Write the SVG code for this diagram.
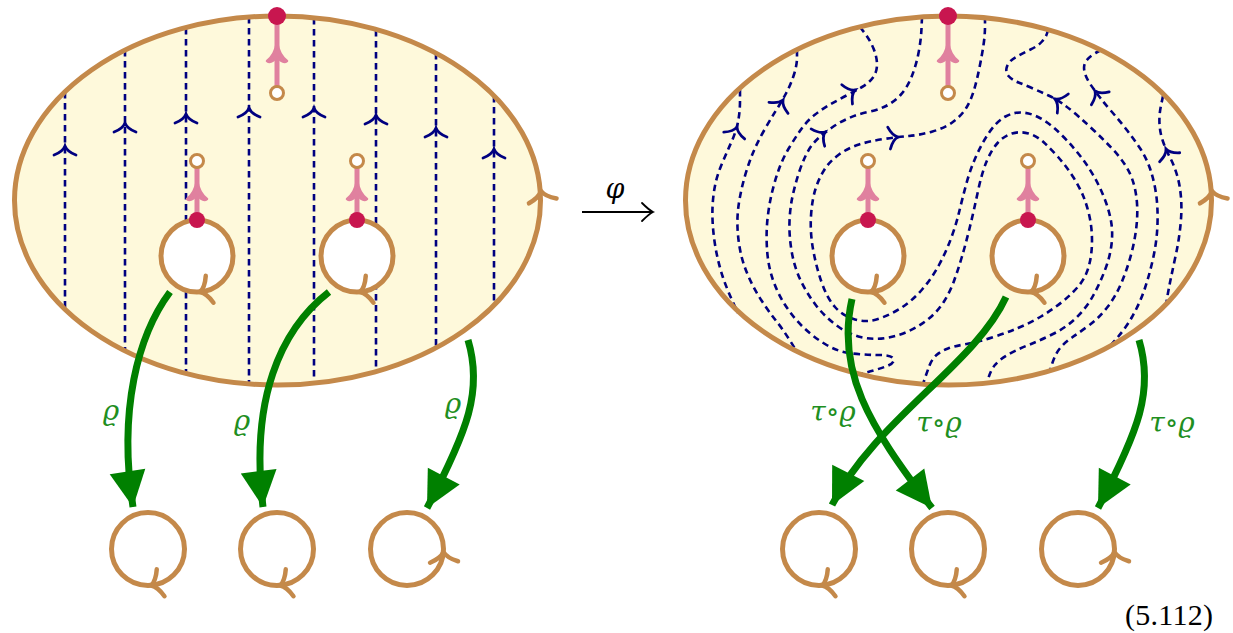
<svg xmlns="http://www.w3.org/2000/svg" width="1233" height="633" viewBox="0 0 1233 633">
<style>
.ell{fill:#FEF9DB}
.bd{fill:none;stroke:#C4894A;stroke-width:5}
.hole{fill:#fff;stroke:#C4894A;stroke-width:5}
.ta{fill:none;stroke:#C4894A;stroke-width:4.5;stroke-linecap:round}
.dl{fill:none;stroke:#000080;stroke-width:2.6;stroke-dasharray:6.5 4.5}
.nv{fill:none;stroke:#000080;stroke-width:2.8;stroke-linecap:round}
.pk{fill:none;stroke:#E0819F;stroke-width:5;stroke-linecap:round}
.pkh{fill:#E0819F;stroke:#E0819F;stroke-width:2.5;stroke-linejoin:round}
.rd{fill:#C8164F}
.oc{fill:#fff;stroke:#C4894A;stroke-width:3}
.gr{fill:none;stroke:#008000;stroke-width:7;marker-end:url(#gh)}
.lb{font-family:"DejaVu Serif","Liberation Serif",serif;font-style:italic;font-size:28px;fill:#1F8F1F;text-anchor:middle}
</style>
<defs>
<path id="nvh" d="M-11 9 Q-2 5.5 0 0 Q2 5.5 11 9"/>
<path id="tah" d="M-14 10 Q-3 6 0 0 Q3 6 14 10"/>
<path id="pah" d="M0 0 Q2 13 10 19 Q6 22 0 15 Q-6 22 -10 19 Q-2 13 0 0 Z"/>
<marker id="gh" markerUnits="userSpaceOnUse" viewBox="-36 -18 36 36" markerWidth="36" markerHeight="36" refX="0" refY="0" orient="auto" overflow="visible">
<path d="M-36 -18 L0 0 L-36 18 Z" fill="#008000"/>
</marker>
</defs>

<g id="left-surface">
<ellipse class="ell" cx="277.5" cy="200.5" rx="263" ry="184.5"/>
<g id="left-dashed">
<line class="dl" x1="65" y1="92" x2="65" y2="309"/>
<line class="dl" x1="125" y1="50" x2="125" y2="351"/>
<line class="dl" x1="186" y1="28" x2="186" y2="373"/>
<line class="dl" x1="249" y1="17" x2="249" y2="384"/>
<line class="dl" x1="314" y1="18" x2="314" y2="383"/>
<line class="dl" x1="376" y1="30" x2="376" y2="371"/>
<line class="dl" x1="436" y1="53" x2="436" y2="348"/>
<line class="dl" x1="494" y1="96" x2="494" y2="305"/>
<use href="#nvh" class="nv" transform="translate(65 146)"/>
<use href="#nvh" class="nv" transform="translate(125 123)"/>
<use href="#nvh" class="nv" transform="translate(186 114)"/>
<use href="#nvh" class="nv" transform="translate(249 108)"/>
<use href="#nvh" class="nv" transform="translate(314 108)"/>
<use href="#nvh" class="nv" transform="translate(376 115)"/>
<use href="#nvh" class="nv" transform="translate(436 128)"/>
<use href="#nvh" class="nv" transform="translate(494 149)"/>
</g>
<ellipse class="bd" cx="277.5" cy="200.5" rx="263" ry="184.5"/>
<use href="#tah" class="ta" transform="translate(541 191) rotate(-10)"/>
</g>

<g id="left-top-marker">
<line class="pk" x1="277" y1="93" x2="277" y2="18"/>
<use href="#pah" class="pkh" transform="translate(277 42)"/>
<circle class="rd" cx="277" cy="16" r="9"/>
<circle class="oc" cx="277" cy="93" r="6.5"/>
</g>
<g id="left-hole-1">
<circle class="hole" cx="197" cy="256" r="36"/>
<use href="#tah" class="ta" transform="translate(200 292) rotate(-106)"/>
<line class="pk" x1="197" y1="161" x2="197" y2="219"/>
<use href="#pah" class="pkh" transform="translate(197 180)"/>
<circle class="rd" cx="197" cy="220" r="8"/>
<circle class="oc" cx="197" cy="161" r="6.5"/>
</g>
<g id="left-hole-2">
<circle class="hole" cx="357" cy="256" r="36"/>
<use href="#tah" class="ta" transform="translate(360 292) rotate(-106)"/>
<line class="pk" x1="357" y1="161" x2="357" y2="219"/>
<use href="#pah" class="pkh" transform="translate(357 180)"/>
<circle class="rd" cx="357" cy="220" r="8"/>
<circle class="oc" cx="357" cy="161" r="6.5"/>
</g>

<g id="right-surface">
<ellipse class="ell" cx="948.5" cy="200.5" rx="263" ry="184.5"/>
<g id="right-dashed">
<path class="dl" d="M740 90 L740 101 Q740 112 738 122 Q736 132 731 143 Q726 154 721 166 Q716 178 714 191.5 Q712 205 712.5 219 Q713 233 715.5 247.5 Q718 262 722.5 276 Q727 290 738 313"/>
<path class="dl" d="M797 50 L797 57.5 Q797 65 794 74.5 Q791 84 786.5 92.5 Q782 101 776 110.5 Q770 120 763.5 131.5 Q757 143 752.5 154 Q748 165 744.5 177.5 Q741 190 739 202.5 Q737 215 737.5 227.5 Q738 240 740.5 252 Q743 264 748.5 276.5 Q754 289 761.5 300.5 Q769 312 777 322 Q785 332 797 352"/>
<path class="dl" d="M860 27 L865 33.5 Q870 40 873.5 48.5 Q877 57 877 64.5 Q877 72 873 77.5 Q869 83 862 87 Q855 91 846.5 95.5 Q838 100 830 104.5 Q822 109 814.5 115 Q807 121 801 129.5 Q795 138 789 148 Q783 158 779 169 Q775 180 772 192.5 Q769 205 767.5 219 Q766 233 767 249 Q768 265 772.5 278.5 Q777 292 784.5 304 Q792 316 802 326 Q812 336 825 344 Q838 352 852 353.5 Q866 355 879 355 Q892 355 893.5 359 Q895 363 886 366.5 Q876 370 857 375"/>
<path class="dl" d="M922 17 L921.5 28.5 Q921 40 918.5 53 Q916 66 911.5 77 Q907 88 900.5 95 Q894 102 886 106 Q878 110 868 112 Q858 114 849 118 Q840 122 832 127.5 Q824 133 817.5 139 Q811 145 806.5 154 Q802 163 798.5 174 Q795 185 792.5 196.5 Q790 208 789.5 221.5 Q789 235 791.5 250.5 Q794 266 800 279 Q806 292 815 304 Q824 316 836 325 Q848 334 860.5 337 Q873 340 885.5 338 Q898 336 909 331 Q920 326 929 318.5 Q938 311 944 301.5 Q950 292 954 281 Q958 270 962 256.5 Q966 243 970 226.5 Q974 210 978 191 Q982 172 987 160.5 Q992 149 998 142.5 Q1004 136 1012 133.5 Q1020 131 1028.5 133.5 Q1037 136 1044 142.5 Q1051 149 1058.5 157.5 Q1066 166 1072.5 176 Q1079 186 1083 195.5 Q1087 205 1089.5 216.5 Q1092 228 1092 241 Q1092 254 1089 265.5 Q1086 277 1079 285.5 Q1072 294 1062 302 Q1052 310 1041 316.5 Q1030 323 1018 328 Q1006 333 992 337.5 Q978 342 966.5 344 Q955 346 948 348.5 Q941 351 936.5 355 Q932 359 929.5 365.5 Q927 372 923 384"/>
<path class="dl" d="M985 17 L985 26 Q985 35 983.5 45 Q982 55 979.5 67.5 Q977 80 974 90 Q971 100 966.5 107.5 Q962 115 953.5 121.5 Q945 128 932.5 131.5 Q920 135 909 136 Q898 137 884 139 Q870 141 859 144.5 Q848 148 839 154.5 Q830 161 824.5 169.5 Q819 178 815.5 189 Q812 200 811 216 Q810 232 813 249 Q816 266 821.5 282 Q827 298 835 307 Q843 316 855 319.5 Q867 323 879.5 318.5 Q892 314 902.5 307 Q913 300 922.5 289 Q932 278 939 265 Q946 252 951 238.5 Q956 225 959 212.5 Q962 200 966 185 Q970 170 976 156.5 Q982 143 989.5 132 Q997 121 1005.5 116.5 Q1014 112 1022 112.5 Q1030 113 1038 117 Q1046 121 1053 127 Q1060 133 1067 140.5 Q1074 148 1081 157 Q1088 166 1094 176.5 Q1100 187 1104.5 198.5 Q1109 210 1111 221 Q1113 232 1111.5 244.5 Q1110 257 1105 270 Q1100 283 1093.5 295 Q1087 307 1077 317 Q1067 327 1054 333.5 Q1041 340 1028.5 345 Q1016 350 1007.5 355 Q999 360 994.5 365.5 Q990 371 987 383"/>
<path class="dl" d="M1048 30 L1047 33.5 Q1046 37 1042 41.5 Q1038 46 1030.5 49.5 Q1023 53 1016 57 Q1009 61 1007 66.5 Q1005 72 1008.5 76 Q1012 80 1018.5 82.5 Q1025 85 1033 88.5 Q1041 92 1048.5 95.5 Q1056 99 1063 104 Q1070 109 1078 116 Q1086 123 1095 131.5 Q1104 140 1112.5 149 Q1121 158 1127 168 Q1133 178 1135.5 191.5 Q1138 205 1137 220 Q1136 235 1132 251 Q1128 267 1122 281.5 Q1116 296 1107.5 307 Q1099 318 1089.5 325 Q1080 332 1072 337.5 Q1064 343 1059 349.5 Q1054 356 1050 371"/>
<path class="dl" d="M1101 50 L1095.5 53 Q1090 56 1086.5 60.5 Q1083 65 1084.5 71.5 Q1086 78 1090.5 84.5 Q1095 91 1100 97.5 Q1105 104 1112 112 Q1119 120 1126 129 Q1133 138 1139.5 147.5 Q1146 157 1150 168.5 Q1154 180 1156 193.5 Q1158 207 1157.5 223.5 Q1157 240 1153.5 256.5 Q1150 273 1145 288 Q1140 303 1132 317 Q1124 331 1110 346"/>
<path class="dl" d="M1163 96 L1161 105.5 Q1159 115 1159.5 124 Q1160 133 1163 141.5 Q1166 150 1170 157.5 Q1174 165 1177 175 Q1180 185 1181 197.5 Q1182 210 1180.5 225 Q1179 240 1176 254 Q1173 268 1170.5 280 Q1168 292 1166 305"/>
<use href="#nvh" class="nv" transform="translate(737 127) rotate(18)"/>
<use href="#nvh" class="nv" transform="translate(783 100) rotate(30)"/>
<use href="#nvh" class="nv" transform="translate(855 90) rotate(61)"/>
<use href="#nvh" class="nv" transform="translate(825 132) rotate(52)"/>
<use href="#nvh" class="nv" transform="translate(898 137) rotate(83)"/>
<use href="#nvh" class="nv" transform="translate(1055 99) rotate(-60)"/>
<use href="#nvh" class="nv" transform="translate(1095 91) rotate(-36)"/>
<use href="#nvh" class="nv" transform="translate(1166 149) rotate(-24)"/>
</g>
<ellipse class="bd" cx="948.5" cy="200.5" rx="263" ry="184.5"/>
<use href="#tah" class="ta" transform="translate(1212 191) rotate(-10)"/>
</g>

<g id="right-top-marker">
<line class="pk" x1="948" y1="93" x2="948" y2="18"/>
<use href="#pah" class="pkh" transform="translate(948 42)"/>
<circle class="rd" cx="948" cy="16" r="9"/>
<circle class="oc" cx="948" cy="93" r="6.5"/>
</g>
<g id="right-hole-1">
<circle class="hole" cx="868" cy="256" r="36"/>
<use href="#tah" class="ta" transform="translate(871 292) rotate(-106)"/>
<line class="pk" x1="868" y1="161" x2="868" y2="219"/>
<use href="#pah" class="pkh" transform="translate(868 180)"/>
<circle class="rd" cx="868" cy="220" r="8"/>
<circle class="oc" cx="868" cy="161" r="6.5"/>
</g>
<g id="right-hole-2">
<circle class="hole" cx="1028" cy="256" r="36"/>
<use href="#tah" class="ta" transform="translate(1031 292) rotate(-106)"/>
<line class="pk" x1="1028" y1="161" x2="1028" y2="219"/>
<use href="#pah" class="pkh" transform="translate(1028 180)"/>
<circle class="rd" cx="1028" cy="220" r="8"/>
<circle class="oc" cx="1028" cy="161" r="6.5"/>
</g>

<g id="left-circle-1">
<circle class="bd" cx="148" cy="549" r="36.5"/>
<use href="#tah" class="ta" transform="translate(151 585.5) rotate(-106)"/>
</g>
<g id="left-circle-2">
<circle class="bd" cx="277" cy="549" r="36.5"/>
<use href="#tah" class="ta" transform="translate(280 585.5) rotate(-106)"/>
</g>
<g id="left-circle-3">
<circle class="bd" cx="407" cy="549" r="36.5"/>
<use href="#tah" class="ta" transform="translate(443.5 552) rotate(-3)"/>
</g>
<g id="right-circle-1">
<circle class="bd" cx="819" cy="549" r="36.5"/>
<use href="#tah" class="ta" transform="translate(822 585.5) rotate(-106)"/>
</g>
<g id="right-circle-2">
<circle class="bd" cx="948" cy="549" r="36.5"/>
<use href="#tah" class="ta" transform="translate(951 585.5) rotate(-106)"/>
</g>
<g id="right-circle-3">
<circle class="bd" cx="1078" cy="549" r="36.5"/>
<use href="#tah" class="ta" transform="translate(1114.5 552) rotate(-3)"/>
</g>

<g id="connectors">
<path class="gr" d="M170 292 C138 335 118 410 133 507"/>
<path class="gr" d="M329 292 C280 330 250 400 263 507"/>
<path class="gr" d="M468 340 C483 390 468 430 427 508"/>
<path class="gr" d="M852 299 C836 370 868 425 932 508"/>
<path class="gr" d="M1006 297 C975 365 875 420 832 505"/>
<path class="gr" d="M1139 340 C1154 390 1139 430 1098 508"/>
<text class="lb" x="111" y="420">ϱ</text>
<text class="lb" x="242" y="430">ϱ</text>
<text class="lb" x="453" y="413">ϱ</text>
<text class="lb" x="833" y="421">τ∘ϱ</text>
<text class="lb" x="939" y="432">τ∘ϱ</text>
<text class="lb" x="1172" y="432">τ∘ϱ</text>
<line x1="582" y1="212" x2="652" y2="212" stroke="#000" stroke-width="1.8"/>
<path d="M642 203 Q649 210 653 212 Q649 214 642 221" fill="none" stroke="#000" stroke-width="1.8" stroke-linecap="round"/>
<text x="615" y="198" font-family="'DejaVu Serif', 'Liberation Serif', serif" font-style="italic" font-size="27" text-anchor="middle">φ</text>
</g>
<text x="1125" y="625" font-family="'Liberation Serif', serif" font-size="30" textLength="88">(5.112)</text>
</svg>
